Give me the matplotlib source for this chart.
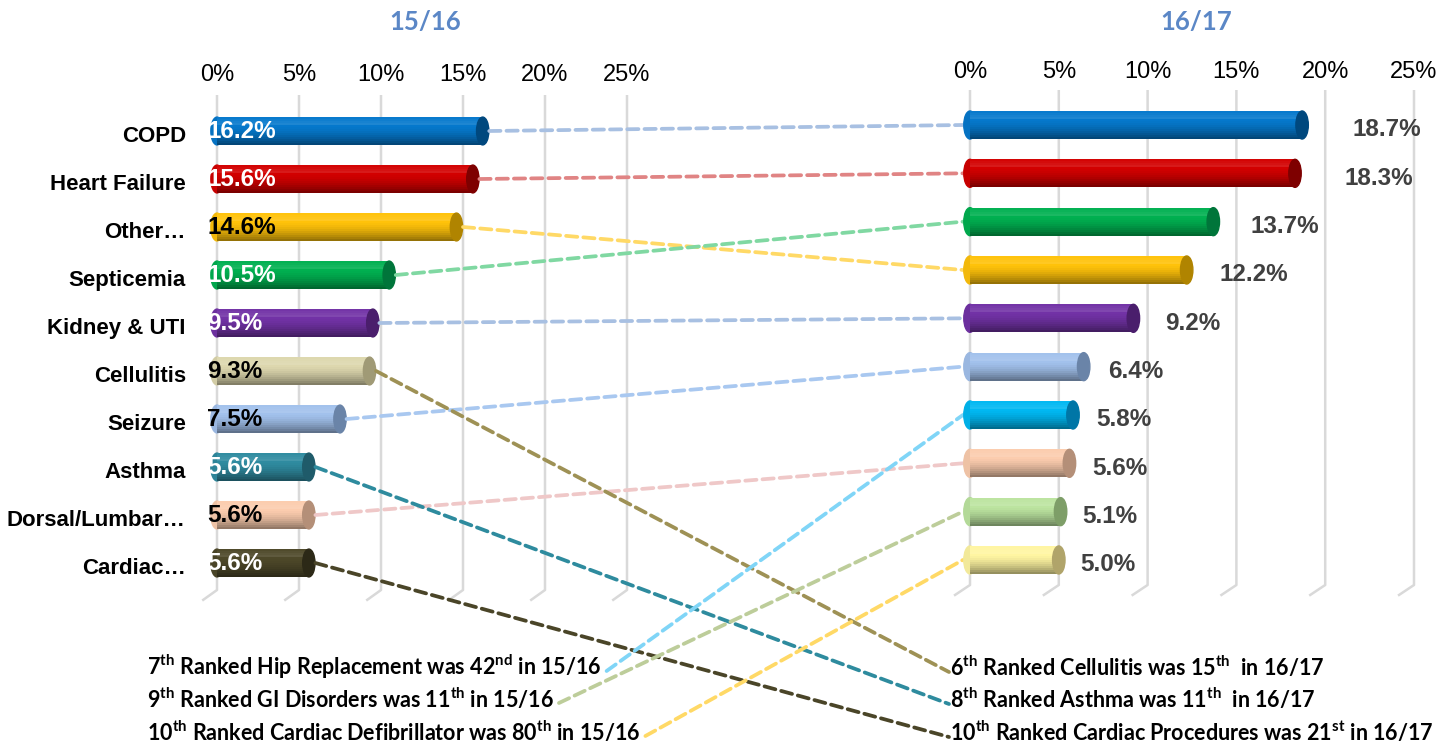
import numpy as np
import matplotlib
matplotlib.use("Agg")
import matplotlib.pyplot as plt
from matplotlib.patches import Ellipse, ConnectionPatch
from matplotlib.colors import to_rgb

plt.rcParams['font.family'] = ['Liberation Sans', 'DejaVu Sans']
plt.rcParams['mathtext.fontset'] = 'custom'
plt.rcParams['mathtext.rm'] = 'Lato:bold'
plt.rcParams['mathtext.bf'] = 'Lato:bold'

# 15/16 ranking
left_cats = ['COPD', 'Heart Failure', 'Other…', 'Septicemia', 'Kidney & UTI',
             'Cellulitis', 'Seizure', 'Asthma', 'Dorsal/Lumbar…', 'Cardiac…']
left_vals = [16.2, 15.6, 14.6, 10.5, 9.5, 9.3, 7.5, 5.6, 5.6, 5.6]

# 16/17 ranking
right_cats = ['COPD', 'Heart Failure', 'Septicemia', 'Other…', 'Kidney & UTI',
              'Seizure', 'Hip Replacement', 'Dorsal/Lumbar…', 'GI Disorders',
              'Cardiac Defibrillator']
right_vals = [18.7, 18.3, 13.7, 12.2, 9.2, 6.4, 5.8, 5.6, 5.1, 5.0]

ticks = [0, 5, 10, 15, 20, 25]
tick_labels = ['0%', '5%', '10%', '15%', '20%', '25%']

left_notes = ['7$^{\\mathrm{th}}$ Ranked Hip Replacement was 42$^{\\mathrm{nd}}$ in 15/16',
              '9$^{\\mathrm{th}}$ Ranked GI Disorders was 11$^{\\mathrm{th}}$ in 15/16',
              '10$^{\\mathrm{th}}$ Ranked Cardiac Defibrillator was 80$^{\\mathrm{th}}$ in 15/16']
left_note_cats = ['Hip Replacement', 'GI Disorders', 'Cardiac Defibrillator']
right_notes = ['6$^{\\mathrm{th}}$ Ranked Cellulitis was 15$^{\\mathrm{th}}$  in 16/17',
               '8$^{\\mathrm{th}}$ Ranked Asthma was 11$^{\\mathrm{th}}$  in 16/17',
               '10$^{\\mathrm{th}}$ Ranked Cardiac Procedures was 21$^{\\mathrm{st}}$ in 16/17']
right_note_cats = ['Cellulitis', 'Asthma', 'Cardiac…']

# colours: bar, cap, connecting line
colors = {
    'COPD': ('#0578CC', '#00487E', '#A8C0E2'),
    'Heart Failure': ('#D20000', '#7E0000', '#E08484'),
    'Other…': ('#FFC20A', '#B08400', '#FFD966'),
    'Septicemia': ('#00B050', '#00753A', '#80D8A2'),
    'Kidney & UTI': ('#7232A6', '#4A1E6C', '#A8C0E2'),
    'Cellulitis': ('#DDD7AE', '#A09A76', '#9E9155'),
    'Seizure': ('#A2C1EC', '#6A84A8', '#A9C8F0'),
    'Asthma': ('#2F8BA0', '#1F5B6A', '#2E8B9E'),
    'Dorsal/Lumbar…': ('#FBCCAE', '#B48F78', '#EFC8C8'),
    'Cardiac…': ('#4D4829', '#2C2917', '#4A4528'),
    'Hip Replacement': ('#00B8F2', '#0076A6', '#80D5F7'),
    'GI Disorders': ('#BCE4A0', '#7E9E68', '#BDCD9A'),
    'Cardiac Defibrillator': ('#FFF5A2', '#B0A46A', '#FFD966'),
}
white_text = ['COPD', 'Heart Failure', 'Septicemia', 'Kidney & UTI', 'Asthma', 'Cardiac…']

W, H = 1443, 745
fig = plt.figure(figsize=(W / 100, H / 100), dpi=100)


def px(x, y):
    return x / W, 1 - y / H


def make_axes(x0, x1, ytop, ybot, yc0, step, ylab):
    i_top = (ytop - yc0) / step
    i_bot = (ybot - yc0) / step
    ax = fig.add_axes([x0 / W, 1 - ybot / H, (x1 - x0) / W, (ybot - ytop) / H])
    ax.set_xlim(0, 25)
    ax.set_ylim(i_bot, i_top)
    ax.axis('off')
    for t, lab in zip(ticks, tick_labels):
        ax.plot([t, t, t - 0.9], [i_top, i_bot, i_bot + 0.22], color='#D9D9D9',
                lw=1.8, zorder=0, clip_on=False, solid_capstyle='butt')
        ax.annotate(lab, xy=(t, 0), xycoords=('data', 'figure fraction'),
                    xytext=(0, 1 - ylab / H), textcoords=('offset points', 'figure fraction'),
                    ha='center', va='center', fontsize=17)
    return ax


def mix(c, other, a):
    c, o = np.array(to_rgb(c)), np.array(to_rgb(other))
    return tuple(c * (1 - a) + o * a)


def cylinder(ax, y, v, name, ew):
    body, cap, _ = colors[name]
    h = 0.58
    ax.add_patch(Ellipse((0, y), ew, h, color=mix(body, 'black', 0.05), zorder=3, clip_on=False))
    n = 14
    for k in range(n):
        t = (k + 0.5) / n
        if t < 0.3:
            col = mix(body, 'white', 0.12 * t / 0.3)
        else:
            col = mix(body, 'black', 0.45 * ((t - 0.3) / 0.7) ** 1.6)
        ax.barh(y - h / 2 + h * (k + 0.5) / n, v, height=h / n * 1.05, color=col,
                zorder=3, clip_on=False, linewidth=0)
    ax.add_patch(Ellipse((v, y), ew, h, color=cap, zorder=3.2, clip_on=False))


ax1 = make_axes(217, 627, 95, 590, 131, 48, 75)
ax2 = make_axes(970, 1414, 90, 585, 125, 48.33, 72)

for i, (c, v) in enumerate(zip(left_cats, left_vals)):
    cylinder(ax1, i, v, c, 0.75)
    ax1.text(-0.6, i, f'{v:.1f}%', ha='left', va='center', fontsize=17.5, fontweight='bold',
             color='white' if c in white_text else 'black', zorder=4)
    ax1.text(-1.9, i + 0.12, c, ha='right', va='center', fontsize=16, fontweight='bold')

for i, (c, v) in enumerate(zip(right_cats, right_vals)):
    cylinder(ax2, i, v, c, 0.7)
    ax2.text(v * 1.148 + 2.0, i + 0.1, f'{v:.1f}%', ha='center', va='center', fontsize=17.5,
             fontweight='bold', color='#404040')

fig.text(*px(425, 22), '15/16', ha='center', va='center', fontsize=18.5, fontweight='bold',
         color='#5B87C6', family='Lato')
fig.text(*px(1196, 22), '16/17', ha='center', va='center', fontsize=18.5, fontweight='bold',
         color='#5B87C6', family='Lato')

note_ys = [667, 699, 732]
lt = [fig.text(*px(147, y), s, ha='left', va='center', fontsize=15.5, family='Lato',
               fontweight='bold') for s, y in zip(left_notes, note_ys)]
rt = [fig.text(*px(950, y), s, ha='left', va='center', fontsize=15.5, family='Lato',
               fontweight='bold') for s, y in zip(right_notes, note_ys)]

fig.canvas.draw()
r = fig.canvas.get_renderer()

dash = (0, (3, 1.6))
lw = 2.7

# lines between the two rankings
for i, c in enumerate(left_cats):
    if c in right_cats:
        j = right_cats.index(c)
        con = ConnectionPatch(xyA=(left_vals[i] + 0.4, i), coordsA=ax1.transData,
                              xyB=(-0.4, j), coordsB=ax2.transData,
                              color=colors[c][2], lw=lw, linestyle=dash, zorder=1)
        ax2.add_artist(con)

# dropped from the top ten
for c, t in zip(right_note_cats, rt):
    i = left_cats.index(c)
    bb = t.get_window_extent(r)
    con = ConnectionPatch(xyA=(left_vals[i] + 0.4, i), coordsA=ax1.transData,
                          xyB=(bb.x0 - 1, (bb.y0 + bb.y1) / 2 - 5), coordsB='figure pixels',
                          color=colors[c][2], lw=lw, linestyle=dash, zorder=1)
    ax2.add_artist(con)

# new in the top ten
for c, t in zip(left_note_cats, lt):
    j = right_cats.index(c)
    bb = t.get_window_extent(r)
    con = ConnectionPatch(xyA=(bb.x1 + 5, (bb.y0 + bb.y1) / 2 - 4), coordsA='figure pixels',
                          xyB=(-0.4, j), coordsB=ax2.transData,
                          color=colors[c][2], lw=lw, linestyle=dash, zorder=1)
    ax2.add_artist(con)

fig.savefig('out.png', dpi=100)
